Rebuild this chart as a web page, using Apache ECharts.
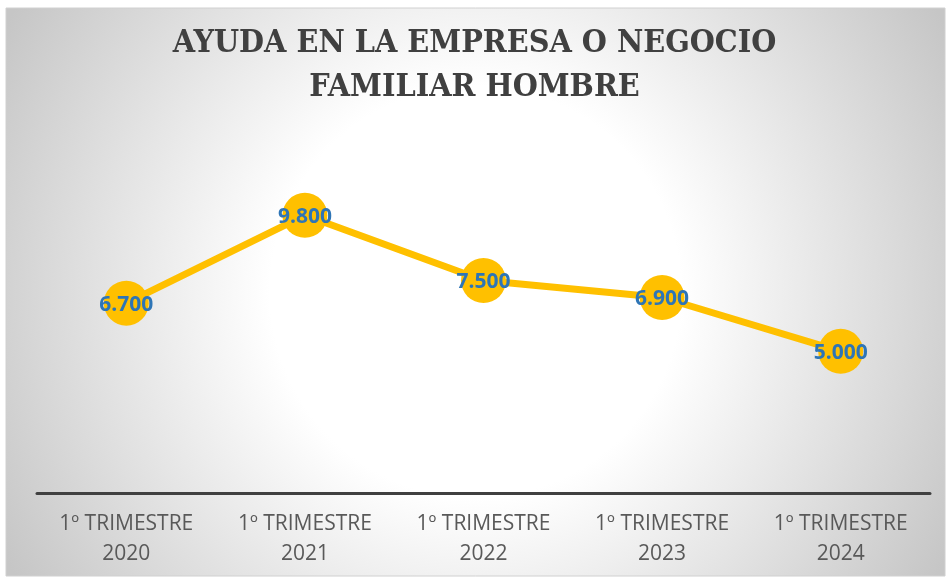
<!DOCTYPE html>
<html>
<head>
<meta charset="utf-8">
<script src="https://cdn.jsdelivr.net/npm/echarts@6/dist/echarts.min.js"></script>
<style>
  html, body { margin: 0; padding: 0; background: #fff; }
  #chart { width: 949px; height: 578px; }
</style>
</head>
<body>
<div id="chart"></div>
<script>
// datos
const categorias = ['1º TRIMESTRE\n2020', '1º TRIMESTRE\n2021', '1º TRIMESTRE\n2022', '1º TRIMESTRE\n2023', '1º TRIMESTRE\n2024'];
const valores = [6700, 9800, 7500, 6900, 5000];
const titulo = 'AYUDA EN LA EMPRESA O NEGOCIO\nFAMILIAR HOMBRE';

// separador de miles con punto
function formatoMiles(v) {
    return String(v).replace(/\B(?=(\d{3})+(?!\d))/g, '.');
}

const chart = echarts.init(document.getElementById('chart'));

chart.setOption({
    animation: false,
    graphic: [{
        type: 'rect',
        z: -10,
        silent: true,
        shape: { x: 6, y: 8, width: 939, height: 568 },
        style: {
            fill: new echarts.graphic.RadialGradient(0.5, 0.5, 0.95, [
                { offset: 0, color: '#ffffff' },
                { offset: 0.38, color: '#ffffff' },
                { offset: 1, color: '#c6c6c6' }
            ]),
            stroke: '#d0d0d0',
            lineWidth: 1
        }
    }],
    title: {
        text: titulo,
        left: 'center',
        top: 17,
        textStyle: {
            fontFamily: '"DejaVu Serif Condensed", "DejaVu Serif", serif',
            fontSize: 32,
            fontWeight: 'bold',
            color: '#404040',
            lineHeight: 44
        }
    },
    grid: { left: 37, right: 19, top: 153, bottom: 85 },
    xAxis: {
        type: 'category',
        data: categorias,
        axisTick: { show: false },
        axisLine: { lineStyle: { color: '#404040', width: 3 } },
        axisLabel: {
            margin: 16,
            fontFamily: '"Open Sans", sans-serif',
            fontSize: 21,
            lineHeight: 30,
            color: '#595959'
        }
    },
    yAxis: {
        type: 'value',
        min: 0,
        max: 12000,
        show: false,
        splitLine: { show: false }
    },
    series: [{
        type: 'line',
        data: valores,
        symbol: 'circle',
        symbolSize: 45,
        itemStyle: { color: '#FFC000' },
        lineStyle: { color: '#FFC000', width: 7 },
        label: {
            show: true,
            position: 'inside',
            offset: [0, 2],
            fontFamily: '"Open Sans", sans-serif',
            fontSize: 21,
            fontWeight: 'bold',
            color: '#2E75B6',
            formatter: p => formatoMiles(p.value)
        }
    }]
});
</script>
</body>
</html>
